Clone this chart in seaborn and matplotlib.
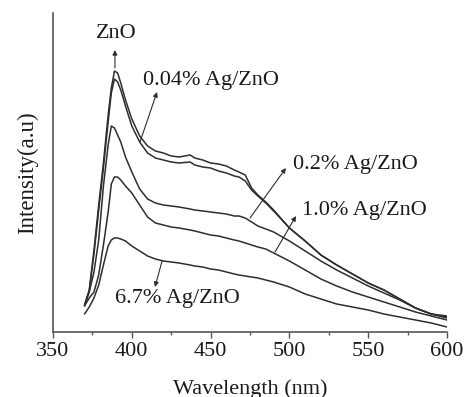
import numpy as np
import pandas as pd
import matplotlib
matplotlib.use("Agg")
import matplotlib.pyplot as plt
import seaborn as sns

wavelength = [370, 373, 376, 379, 382, 385, 387, 389, 391, 393, 396, 400, 405, 410, 415,
              420, 425, 430, 437, 440, 445, 450, 455, 460, 465, 468, 472, 476, 480,
              485, 490, 500, 510, 520, 530, 540, 550, 560, 570, 580, 590, 600]

# intensity (arbitrary units)
zno = [27, 42, 82, 127, 169, 217, 244, 261, 259, 249, 232, 213, 196, 186, 181,
       179, 176, 175, 177, 174, 172, 169, 168, 166, 162, 160, 157, 144, 137,
       130, 122, 104, 91, 77, 67, 58, 49, 42, 33, 24, 18, 16]
ag004 = [27, 41, 78, 122, 164, 210, 239, 253, 250, 242, 226, 206, 190, 179, 174,
         172, 170, 169, 170, 167, 165, 164, 161, 159, 156, 155, 151, 142, 136,
         129, 121, 104, 91, 77, 67, 58, 49, 42, 33, 24, 18, 15]
ag02 = [26, 40, 60, 92, 146, 187, 206, 204, 197, 190, 175, 160, 143, 133, 129,
        127, 126, 125, 123, 122, 121, 120, 119, 118, 116, 116, 114, 110, 106,
        103, 100, 91, 81, 71, 62, 54, 46, 39, 32, 24, 18, 14]
ag10 = [26, 34, 40, 57, 87, 120, 148, 155, 155, 152, 146, 139, 127, 115, 109,
        107, 105, 104, 102, 101, 99, 97, 96, 94, 92, 91, 89, 87, 85,
        83, 79, 71, 62, 53, 46, 40, 35, 30, 25, 20, 16, 12]
ag67 = [18, 25, 34, 47, 67, 86, 92, 94, 94, 93, 91, 86, 81, 76, 73,
        71, 70, 69, 67, 66, 65, 63, 62, 60, 58, 57, 56, 55, 54,
        52, 50, 45, 38, 33, 28, 25, 22, 18, 15, 12, 9, 5]

series_names = ["ZnO", "0.04% Ag/ZnO", "0.2% Ag/ZnO", "1.0% Ag/ZnO", "6.7% Ag/ZnO"]
series_values = [zno, ag004, ag02, ag10, ag67]

frames = []
for name, vals in zip(series_names, series_values):
    frames.append(pd.DataFrame({"Wavelength": wavelength, "Intensity": vals, "Sample": name}))
df = pd.concat(frames, ignore_index=True)

sns.set_style("white")
plt.rcParams["font.family"] = ["Liberation Serif", "DejaVu Serif"]

fig = plt.figure(figsize=(4.65, 3.97), dpi=100)
ax = fig.add_axes([53 / 465, 1 - 332 / 397, (447 - 53) / 465, (332 - 13) / 397])

line_color = "#2e2e2e"
sns.lineplot(data=df, x="Wavelength", y="Intensity", hue="Sample",
             palette=[line_color] * 5, linewidth=1.1, legend=False, ax=ax, sort=False)

ax.set_xlim(350, 600)
ax.set_ylim(0, 319)
ax.set_xticks([350, 400, 450, 500, 550, 600])
ax.set_xticks([375, 425, 475, 525, 575], minor=True)
ax.set_yticks([])
ax.tick_params(axis="x", which="major", direction="out", length=4, width=1,
               color="#555555", labelsize=16, pad=3, labelcolor="#1a1a1a", bottom=True)
ax.tick_params(axis="x", which="minor", direction="out", length=2.5, width=1,
               color="#555555", bottom=True)
for side in ["top", "right"]:
    ax.spines[side].set_visible(False)
for side in ["left", "bottom"]:
    ax.spines[side].set_color("#555555")
    ax.spines[side].set_linewidth(1.2)

ax.set_xlabel("Wavelength (nm)", fontsize=16, color="#1a1a1a", labelpad=13)
ax.set_ylabel("Intensity(a.u)", fontsize=16.5, color="#1a1a1a", labelpad=11)

txt = dict(fontsize=16, color="#1a1a1a")
arrow = dict(arrowstyle="-|>", lw=0.8, color="#2e2e2e", mutation_scale=7, shrinkA=0, shrinkB=0)

ax.text(390, 298, "ZnO", ha="center", va="center", **txt)
ax.annotate("", xy=(389.3, 282), xytext=(389.3, 264), arrowprops=arrow)

ax.text(407, 252, "0.04% Ag/ZnO", ha="left", va="center", **txt)
ax.annotate("", xy=(416, 240), xytext=(405.2, 190), arrowprops=arrow)

ax.text(502.3, 167, "0.2% Ag/ZnO", ha="left", va="center", **txt)
ax.annotate("", xy=(497.8, 164), xytext=(475, 114), arrowprops=arrow)

ax.text(508, 122, "1.0% Ag/ZnO", ha="left", va="center", **txt)
ax.annotate("", xy=(504.2, 116), xytext=(490.9, 80), arrowprops=arrow)

ax.text(389.3, 34, "6.7% Ag/ZnO", ha="left", va="center", **txt)
ax.annotate("", xy=(414.7, 45), xytext=(419.2, 71), arrowprops=arrow)

fig.savefig("out.png", dpi=100)
